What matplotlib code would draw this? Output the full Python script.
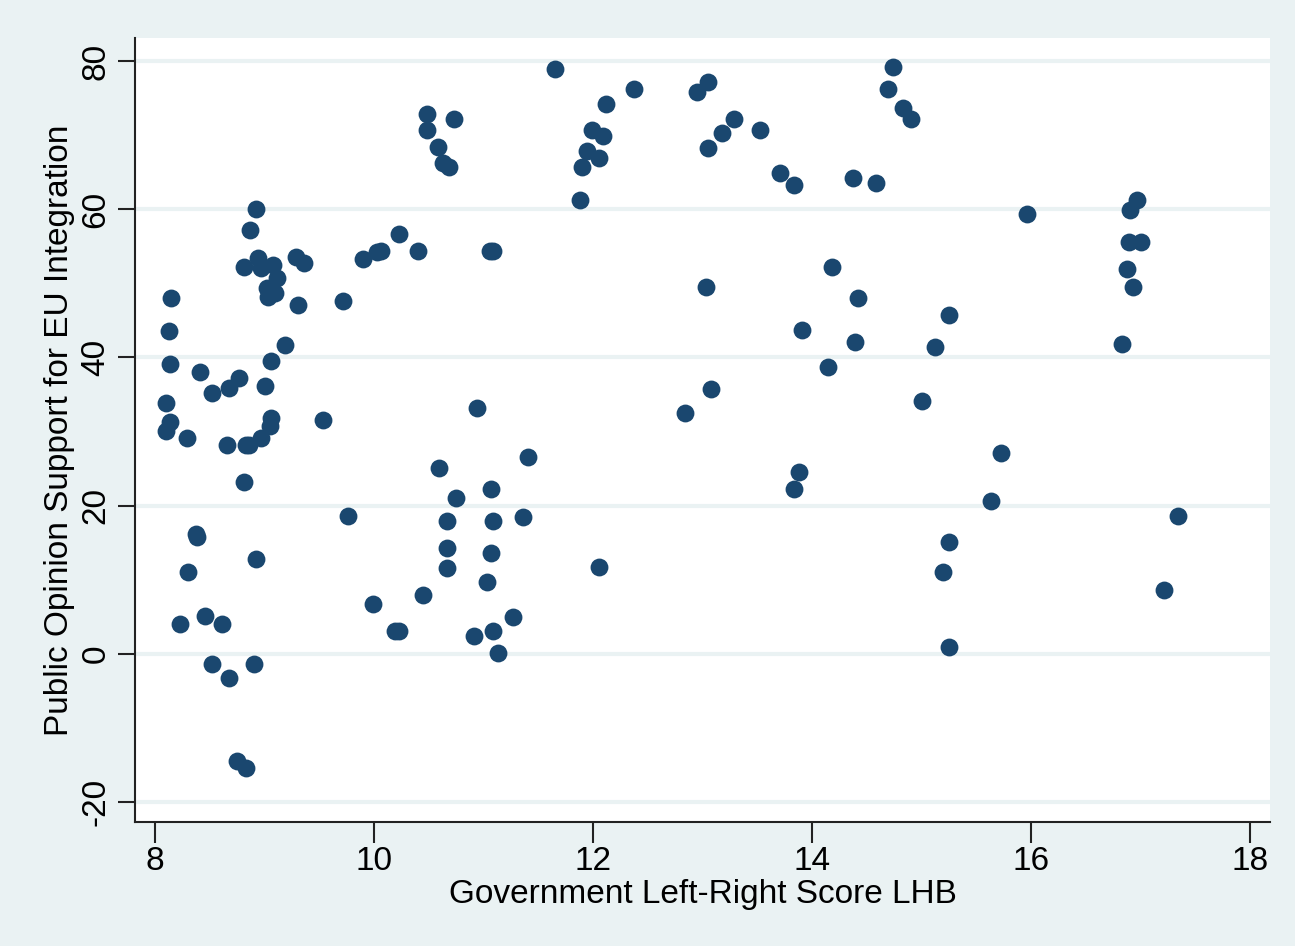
import matplotlib
matplotlib.use("Agg")
import matplotlib.pyplot as plt

# Government left-right score (LHB) vs public support for EU integration
gov_lr = [
    8.10, 8.14, 8.10, 8.15, 8.13, 8.14, 8.29, 8.30, 8.38, 8.37,
    8.23, 8.46, 8.41, 8.52, 8.52, 8.61, 8.66, 8.68, 8.77, 8.68,
    8.75, 8.83, 8.81, 8.83, 8.86, 8.81, 8.87, 8.92, 8.92, 8.90,
    8.94, 8.97, 9.08, 9.11, 9.02, 9.10, 9.03, 9.29, 9.36, 9.31,
    9.72, 9.00, 9.06, 9.19, 9.06, 9.05, 8.97, 9.53, 9.76, 9.90,
    10.06, 10.03, 10.23, 10.40, 11.09, 11.06, 10.48, 10.48, 10.73, 10.58,
    10.63, 10.68, 10.94, 10.59, 10.75, 10.67, 10.67, 10.67, 10.45, 9.99,
    10.19, 10.23, 10.91, 11.09, 11.13, 11.27, 11.07, 11.09, 11.07, 11.03,
    11.36, 11.41, 12.05, 12.84, 13.03, 13.08, 13.88, 13.83, 11.65, 12.37,
    12.12, 12.95, 13.05, 11.99, 12.09, 11.94, 12.05, 11.90, 11.88, 13.05,
    13.18, 13.29, 13.52, 13.71, 13.83, 14.37, 14.58, 14.74, 14.69, 14.83,
    14.90, 14.18, 14.42, 13.91, 14.39, 14.14, 15.96, 16.97, 16.90, 16.89,
    17.00, 16.87, 16.93, 16.83, 15.25, 15.12, 15.00, 15.72, 15.63, 17.34,
    15.25, 15.19, 17.21, 15.25,
]
eu_support = [
    33.8, 31.3, 30.1, 48.0, 43.5, 39.1, 29.1, 11.0, 15.8, 16.2,
    4.0, 5.1, 38.0, 35.2, -1.4, 4.0, 28.2, 35.9, 37.2, -3.3,
    -14.5, -15.4, 23.2, 28.2, 28.2, 52.2, 57.2, 60.0, 12.8, -1.4,
    53.4, 52.1, 52.5, 50.7, 49.4, 48.7, 48.2, 53.6, 52.7, 47.1,
    47.6, 36.1, 39.5, 41.7, 31.8, 30.8, 29.1, 31.6, 18.6, 53.3,
    54.4, 54.2, 56.7, 54.4, 54.4, 54.4, 72.8, 70.7, 72.2, 68.4,
    66.2, 65.7, 33.2, 25.1, 21.0, 17.9, 14.3, 11.6, 8.0, 6.7,
    3.1, 3.1, 2.4, 3.1, 0.1, 5.0, 22.2, 17.9, 13.6, 9.7,
    18.5, 26.6, 11.7, 32.5, 49.5, 35.7, 24.5, 22.2, 78.9, 76.2,
    74.2, 75.8, 77.2, 70.7, 69.9, 67.9, 66.9, 65.7, 61.2, 68.3,
    70.3, 72.2, 70.7, 64.9, 63.3, 64.2, 63.5, 79.2, 76.2, 73.7,
    72.2, 52.2, 48.0, 43.7, 42.1, 38.7, 59.4, 61.2, 59.9, 55.6,
    55.6, 51.9, 49.5, 41.8, 45.7, 41.4, 34.1, 27.1, 20.6, 18.6,
    15.1, 11.0, 8.6, 0.9,
]
x_ticks = [8, 10, 12, 14, 16, 18]
y_ticks = [-20, 0, 20, 40, 60, 80]

BG = "#EAF2F3"
NAVY = "#1A476F"

plt.rcParams['font.family'] = ['Liberation Sans', 'DejaVu Sans']

fig = plt.figure(figsize=(12.95, 9.46), dpi=100, facecolor=BG)
ax = fig.add_axes([0.1042, 0.1311, 0.8765, 0.8287])
ax.set_facecolor("white")

ax.scatter(gov_lr, eu_support, s=165, color=NAVY, linewidths=0, zorder=3)

ax.set_xlim(7.817, 18.18)
ax.set_ylim(-22.7, 83.1)
ax.set_xticks(x_ticks)
ax.set_yticks(y_ticks)
ax.set_yticklabels([str(v) for v in y_ticks], rotation=90, va='center')

ax.grid(axis='y', color=BG, linewidth=3, zorder=1)
ax.set_axisbelow(True)

for side in ['top', 'right']:
    ax.spines[side].set_visible(False)
for side in ['left', 'bottom']:
    ax.spines[side].set_color('#222222')
    ax.spines[side].set_linewidth(1.5)

ax.tick_params(axis='x', length=15, width=1.5, color='#222222', labelsize=24, pad=2)
ax.tick_params(axis='y', length=12, width=1.5, color='#222222', labelsize=24, pad=5)

ax.set_xlabel("Government Left-Right Score LHB", fontsize=24, labelpad=2)
ax.set_ylabel("Public Opinion Support for EU Integration", fontsize=24, labelpad=4)

fig.savefig("out.png", dpi=100, facecolor=BG)
